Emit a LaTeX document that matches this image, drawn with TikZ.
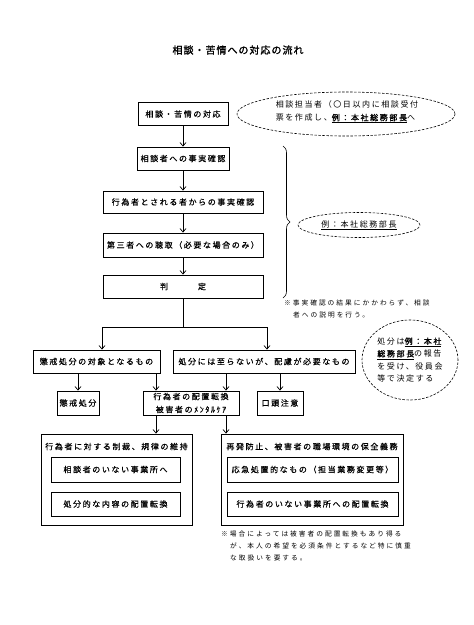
\documentclass[tikz,border=0pt]{standalone}
\usepackage{fontspec}
\setmainfont{Noto Sans CJK JP}
\newfontfamily\jpfont[LetterSpace=20,FakeBold=0.6]{Noto Sans CJK JP}
\newfontfamily\jplight[LetterSpace=20]{Noto Sans CJK JP}
\newfontfamily\jpnote[LetterSpace=30]{Noto Sans CJK JP}
\newfontfamily\jptitle[LetterSpace=10,FakeBold=1.5]{Noto Sans CJK JP}
\newfontfamily\jpbold[LetterSpace=20,FakeBold=1.2]{Noto Sans CJK JP}
\usetikzlibrary{shapes.geometric, positioning, arrows.meta, calc, decorations.pathreplacing}
\tikzset{
  stepbox/.style={rectangle, draw=black, line width=0.9pt, inner sep=1pt, text centered, font=\jpfont\fontsize{8}{13}\selectfont},
  groupbox/.style={rectangle, draw=black, line width=0.9pt, inner sep=0pt},
  grouptitle/.style={font=\jpfont\fontsize{8}{10}\selectfont, anchor=center, yshift=-13pt},
  dashoval/.style={ellipse, draw=black, dash pattern=on 2.5pt off 1.5pt, line width=0.6pt, inner sep=0pt, font=\jplight\fontsize{8}{13}\selectfont},
  remark/.style={align=left, inner sep=0pt, anchor=north west, font=\jpnote\fontsize{6.7}{12}\selectfont},
  arrow/.style={line width=0.7pt, -{Straight Barb[length=3.5pt,width=6pt]}}
}
\newcommand{\reitext}[1]{\underline{{\jpbold #1}}}

\begin{document}
\begin{tikzpicture}[x=1pt, y=-1pt]
  \useasboundingbox (0,0) rectangle (474,625);

  % --- Title ---
  \node (title) [font=\jptitle\fontsize{10}{12}\selectfont] at (238,50) {相談・苦情への対応の流れ};

  % --- Nodes ---
  \node (taiou) [stepbox, minimum width=90pt, minimum height=23pt] at (183,114) {相談・苦情の対応};
  \node (kakunin1) [stepbox, minimum width=92pt, minimum height=23pt] at (183,158.5) {相談者への事実確認};
  \node (kakunin2) [stepbox, minimum width=160pt, minimum height=22pt] at (183,202) {行為者とされる者からの事実確認};
  \node (choushu) [stepbox, minimum width=160pt, minimum height=24pt] at (183,245) {第三者への聴取（必要な場合のみ）};
  \node (hantei) [stepbox, minimum width=160pt, minimum height=23pt] at (183,286.5) {判\hspace{30pt}定};

  \node (tantou) [dashoval, minimum width=218pt, minimum height=44pt] at (346,114) {};
  \node (tantoutext) [font=\jplight\fontsize{8}{13}\selectfont, align=left, inner sep=0pt] at (347,112) {相談担当者（〇日以内に相談受付\\票を作成し、\reitext{例：本社総務部長}へ};
  \node (rei) [dashoval, minimum width=122pt, minimum height=25pt] at (359,225) {\underline{例：本社総務部長}};
  \node (chuui1) [remark] at (284,300) {※事実確認の結果にかかわらず、相談\\\hspace*{9pt}者への説明を行う。};

  \node (chokai) [stepbox, minimum width=127pt, minimum height=23pt] at (96.5,361.5) {懲戒処分の対象となるもの};
  \node (hairyo) [stepbox, minimum width=182pt, minimum height=23pt] at (264,361.5) {処分には至らないが、配慮が必要なもの};
  \node (kettei) [dashoval, minimum width=96pt, minimum height=80pt, align=left, font=\jplight\fontsize{8}{12.5}\selectfont] at (410,360) {処分は\reitext{例：本社}\\\reitext{総務部長}の報告\\を受け、役員会\\等で決定する};

  \node (chokaishobun) [stepbox, minimum width=42pt, minimum height=24pt] at (78,403) {懲戒処分};
  \node (haichi) [stepbox, minimum width=96pt, minimum height=24pt, align=center] at (191,403) {行為者の配置転換\\被害者のﾒﾝﾀﾙｹｱ};
  \node (koutou) [stepbox, minimum width=46pt, minimum height=24pt] at (280,403) {口頭注意};

  \node (seisai) [groupbox, minimum width=151pt, minimum height=91pt, label={[grouptitle]north:行為者に対する制裁、規律の維持}] at (116.5,479.5) {};
  \node (hozen) [groupbox, minimum width=182pt, minimum height=91pt, label={[grouptitle]north:再発防止、被害者の職場環境の保全義務}] at (312,479.5) {};
  \node (jigyousho) [stepbox, minimum width=129pt, minimum height=25pt] at (115.5,469.5) {相談者のいない事業所へ};
  \node (shobunteki) [stepbox, minimum width=129pt, minimum height=24pt] at (115.5,504) {処分的な内容の配置転換};
  \node (oukyu) [stepbox, minimum width=171pt, minimum height=25pt] at (312.5,469.5) {応急処置的なもの（担当業務変更等）};
  \node (ikou) [stepbox, minimum width=171pt, minimum height=24pt] at (312.5,504) {行為者のいない事業所への配置転換};
  \node (chuui2) [remark] at (221,531) {※場合によっては被害者の配置転換もあり得る\\\hspace*{9pt}が、本人の希望を必須条件とするなど特に慎重\\\hspace*{9pt}な取扱いを要する。};

  % --- Connections ---
  \draw [arrow] (taiou) -- (kakunin1);
  \draw [arrow] (kakunin1) -- (kakunin2);
  \draw [arrow] (kakunin2) -- (choushu);
  \draw [arrow] (choushu) -- (hantei);
  \draw [decorate, decoration={brace, amplitude=7pt}, line width=0.6pt] (283,146) -- (283,298);

  \coordinate (bunki) at (183,327);
  \coordinate (bunkiL) at (102,327);
  \coordinate (bunkiR) at (267,327);
  \draw [line width=0.7pt] (hantei) -- (bunki);
  \draw [line width=0.7pt] (bunkiL) -- (bunkiR);
  \draw [arrow] (bunkiL) -- (bunkiL |- chokai.north);
  \draw [arrow] (bunkiR) -- (bunkiR |- hairyo.north);

  \coordinate (haichiL) at ([xshift=-35pt]haichi.north);
  \coordinate (haichiR) at ([xshift=35pt]haichi.north);
  \draw [arrow] (chokaishobun |- chokai.south) -- (chokaishobun.north);
  \draw [arrow] (haichiL |- chokai.south) -- (haichiL);
  \draw [arrow] (haichiR |- hairyo.south) -- (haichiR);
  \draw [arrow] (koutou |- hairyo.south) -- (koutou.north);

  \coordinate (haichiBL) at ([xshift=-35pt]haichi.south);
  \coordinate (haichiBR) at ([xshift=35pt]haichi.south);
  \draw [arrow] (haichiBL) -- (haichiBL |- seisai.north);
  \draw [arrow] (haichiBR) -- (haichiBR |- hozen.north);
\end{tikzpicture}
\end{document}
